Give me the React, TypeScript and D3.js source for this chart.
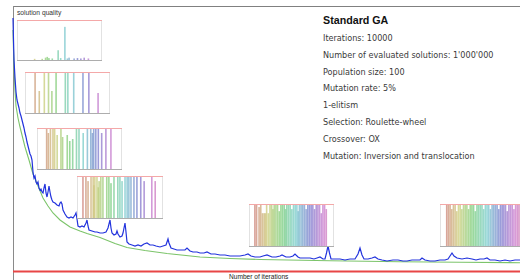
import React from "react";
import * as d3 from "d3";

// ---- main series: iteration -> solution quality (cost) ----
const blueIter = [0,10,20,40,60,80,100,120,140,160,180,200,220,240,260,280,300,320,340,360,380,400,420,440,460,480,500,520,540,560,580,600,620,640,660,680,700,720,740,760,780,800,840,880,920,940,960,980,1000,1040,1080,1120,1160,1200,1240,1260,1280,1300,1340,1380,1420,1460,1480,1500,1520,1580,1640,1680,1740,1800,1860,1900,1940,1960,1980,2020,2060,2080,2100,2140,2180,2200,2220,2240,2260,2280,2320,2380,2440,2500,2560,2620,2680,2740,2800,2860,2940,3000,3060,3080,3100,3120,3160,3220,3280,3360,3440,3480,3540,3600,3680,3740,3820,3880,3960,4040,4140,4240,4340,4440,4540,4640,4700,4760,4840,4940,5000,5080,5180,5260,5340,5380,5460,5540,5600,5640,5700,5740,5840,5940,6020,6080,6140,6200,6240,6270,6300,6330,6360,6440,6540,6640,6740,6840,6900,6940,6980,7020,7100,7180,7240,7300,7380,7480,7600,7700,7800,7880,7980,8060,8140,8180,8240,8340,8440,8540,8640,8700,8740,8780,8820,8880,8980,9080,9180,9260,9340,9420,9480,9540,9640,9740,9840,9940,10040,10140];
const blueQual = [1012,924,844,772,716,684,668,652,632,620,604,588,572,552,536,516,500,484,468,460,444,396,372,380,356,348,356,332,324,328,316,312,332,348,312,296,316,340,316,296,284,276,272,264,260,272,276,268,244,228,216,212,216,212,224,232,208,180,176,180,176,192,204,180,164,160,156,156,152,152,156,172,204,172,152,144,148,160,148,136,140,152,172,192,156,116,108,104,100,104,100,108,112,104,104,100,96,100,104,116,128,112,92,88,84,84,84,92,80,76,76,72,72,76,68,68,64,64,60,60,60,64,68,60,56,56,60,64,56,56,60,64,56,56,60,68,56,52,52,52,48,52,56,48,48,72,100,72,48,48,48,44,48,48,68,92,64,48,48,52,56,48,44,40,44,44,40,40,44,44,44,52,44,40,40,44,44,48,60,72,60,52,48,52,48,44,48,48,52,44,44,40,44,40,44,44];
const greenIter = [0,10,20,40,60,100,140,180,240,320,400,500,600,700,800,940,1140,1340,1480,1740,2040,2280,2640,3080,3740,4340,4940,6340,7740,8940,10140];
const greenQual = [964,884,824,724,660,612,576,544,496,444,388,340,292,260,232,204,176,160,150,134,110,94,82,70,56,50,46,41,37,35,33];

// ---- population snapshots: [gene position 0..100, share 0..1] ----
const snapshot1: [number, number][] = [[21,0.03],[30,0.03],[34,0.06],[36,0.08],[38,0.05],[42,0.04],[49,0.25],[52,0.05],[57,0.85],[60,0.04],[62,0.06],[68,0.04],[72,0.05],[76,0.04],[80,0.06],[85,0.04]];
const snapshot2: [number, number][] = [[12,1],[17,0.55],[23,1],[28,1],[32,0.55],[37,1],[48,1],[51,1],[58,1],[69,1],[76,1],[87,0.5]];
const snapshot3: [number, number][] = [[11.5,1],[13.5,0.9],[16,1],[19,1],[21,1],[24,0.85],[28.5,1],[30.5,0.8],[36,0.85],[39,0.7],[42.5,0.75],[47,1],[50,1],[55,0.9],[60,1],[64,1],[66,0.9],[67.5,1],[70,1],[73,1],[77,0.9],[82,1],[88,1]];
const snapshot4: [number, number][] = [[7,1],[10.5,1],[13,0.9],[16.5,1],[19,1],[20,0.8],[21,1],[23.5,1],[25,0.75],[26,0.9],[28,1],[30.5,1],[35,1],[37.5,1],[40,0.85],[43.5,1],[48,1],[50.5,1],[53,0.9],[56.5,1],[59,1],[61,1],[63.5,1],[67,1],[70.5,1],[75,1],[79,0.9],[88,1],[92,0.9]];
const snapshot5: [number, number][] = [[7,1],[9,1],[12,0.95],[14,1],[16,0.8],[18,0.8],[19.5,0.8],[21,1],[23,0.8],[25,1],[27,1],[28.5,0.9],[30,1],[32,1],[34,1],[36,0.85],[38,1],[40,1],[42,1],[43.5,0.9],[45,1],[47,1],[49,1],[51,0.9],[53,1],[55,1],[57,1],[58.5,0.85],[60,1],[62,1],[64,1],[66,1],[68,0.9],[70,1],[72,1],[74,1],[76,1],[78,0.9],[80,1],[82,1],[84,1],[86,0.8],[88,1],[90,1],[92,0.9]];
const snapshot6: [number, number][] = [[8,1],[10,1],[12,1],[14,0.9],[16,1],[18,1],[20,0.85],[22,1],[24,1],[26,0.9],[28,1],[30,1],[32,1],[34,0.9],[36,1],[38,1],[40,1],[42,0.85],[44,1],[46,1],[48,1],[50,1],[52,0.9],[54,1],[56,1],[58,1],[60,0.9],[62,1],[64,1],[66,1],[68,1],[70,0.9],[72,1],[74,1],[76,1],[78,1],[80,0.85],[82,1],[84,1],[86,1],[88,0.9],[90,1],[92,1],[94,1],[96,1]];
const snapshots = [snapshot1, snapshot2, snapshot3, snapshot4, snapshot5, snapshot6];

// ---- info panel text ----
const panelTitle = "Standard GA";
const panelLines = [
  "Iterations: 10000",
  "Number of evaluated solutions: 1'000'000",
  "Population size: 100",
  "Mutation rate: 5%",
  "1-elitism",
  "Selection: Roulette-wheel",
  "Crossover: OX",
  "Mutation: Inversion and translocation",
];
const yAxisLabel = "solution quality";
const xAxisLabel = "Number of iterations";

// layout of the snapshot boxes (pixels)
const insetBoxes = [
  { x: 17, y: 20, w: 84, h: 40 },
  { x: 25, y: 72, w: 84, h: 41 },
  { x: 37, y: 128, w: 84, h: 41 },
  { x: 77, y: 176, w: 85, h: 42 },
  { x: 249, y: 204, w: 84, h: 42 },
  { x: 440, y: 204, w: 84, h: 42 },
];

const W = 520;
const H = 280;

const xScale = d3.scaleLinear().domain([0, 10000]).range([13, 513]);
const yScale = d3.scaleLinear().domain([0, 1060]).range([271, 6]);

const lineGen = d3
  .line<[number, number]>()
  .x((d) => xScale(d[0]))
  .y((d) => yScale(d[1]));

const bluePts: [number, number][] = blueIter.map((it, i) => [it, blueQual[i]]);
const greenPts: [number, number][] = greenIter.map((it, i) => [it, greenQual[i]]);

const hueScale = d3.scaleLinear().domain([5, 98]).range([0, 330]).clamp(true);
const barColor = (p: number) => d3.hsl(hueScale(p), 0.45, 0.66).toString();

function Inset({ box, data }: { box: { x: number; y: number; w: number; h: number }; data: [number, number][] }) {
  const ix = d3.scaleLinear().domain([0, 100]).range([box.x, box.x + box.w]);
  const iy = d3.scaleLinear().domain([0, 1]).range([box.y + box.h, box.y + 1]);
  return (
    <g>
      <rect x={box.x + 0.5} y={box.y + 0.5} width={box.w} height={box.h} fill="#fff" stroke="#e2e2e2" strokeWidth={1} />
      {data.map(([p, v], i) => (
        <rect
          key={i}
          x={ix(p) - 0.8}
          y={iy(v)}
          width={1.6}
          height={iy(0) - iy(v)}
          fill={barColor(p)}
          opacity={0.8}
        />
      ))}
      <line x1={box.x} x2={box.x + box.w + 1} y1={box.y + 0.5} y2={box.y + 0.5} stroke="#f4a8a8" strokeWidth={1} />
      <line x1={box.x} x2={box.x + box.w + 1} y1={box.y + box.h + 0.5} y2={box.y + box.h + 0.5} stroke="#adadad" strokeWidth={1} />
    </g>
  );
}

export default function App() {
  return (
    <svg width={W} height={H} style={{ position: "absolute", left: 0, top: 0, background: "#fff" }}>
      <rect x={0} y={0} width={W} height={H} fill="#fff" />
      {/* frame */}
      <line x1={13} x2={W} y1={6.5} y2={6.5} stroke="#808080" strokeWidth={1.2} />
      <line x1={13.5} x2={13.5} y1={6} y2={H} stroke="#8a8a8a" strokeWidth={1} />
      <line x1={13} x2={W} y1={yScale(0) + 0.5} y2={yScale(0) + 0.5} stroke="#e84646" strokeWidth={1.8} />

      {/* curves */}
      <path d={lineGen(greenPts) || ""} fill="none" stroke="#7cc46a" strokeWidth={1.1} />
      <path d={lineGen(bluePts) || ""} fill="none" stroke="#2233dd" strokeWidth={1.2} />

      {/* snapshots */}
      {snapshots.map((s, i) => (
        <Inset key={i} box={insetBoxes[i]} data={s} />
      ))}

      {/* axis labels */}
      <text x={17} y={15} fontFamily="Liberation Sans, Arial, sans-serif" fontSize={6.7} fill="#333">
        {yAxisLabel}
      </text>
      <text x={229} y={279} fontFamily="Liberation Sans, Arial, sans-serif" fontSize={6.6} fill="#222">
        {xAxisLabel}
      </text>

      {/* info panel */}
      <text x={323} y={24} fontFamily="Liberation Sans, Arial, sans-serif" fontWeight="bold" fontSize={10.7} fill="#111">
        {panelTitle}
      </text>
      {panelLines.map((t, i) => (
        <text key={i} x={323} y={41 + i * 16.8} fontFamily="DejaVu Sans, sans-serif" fontSize={8.1} fill="#3a3a3a">
          {t}
        </text>
      ))}
    </svg>
  );
}
